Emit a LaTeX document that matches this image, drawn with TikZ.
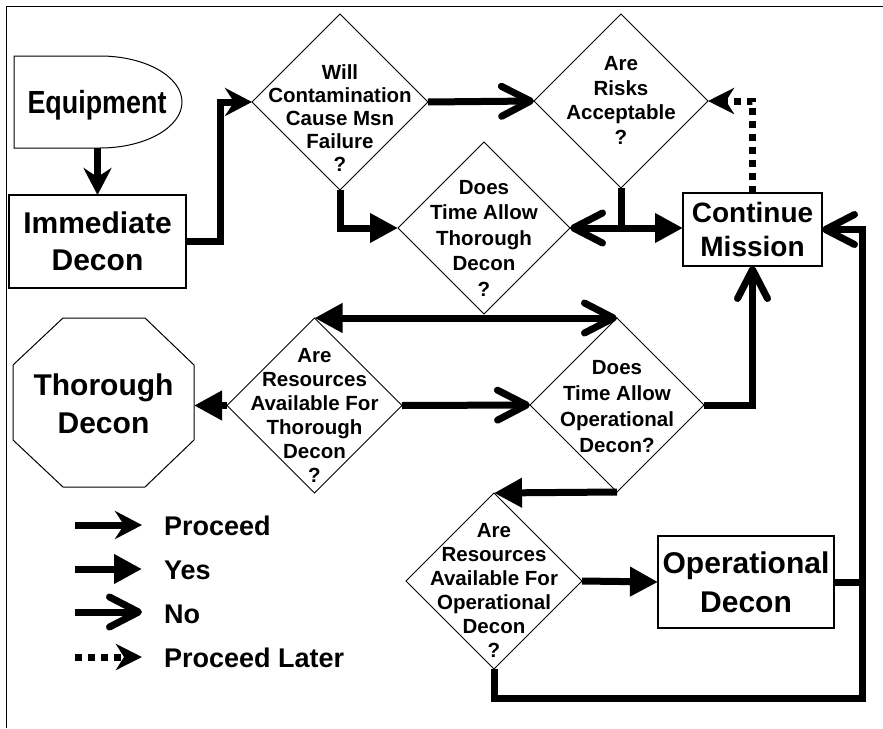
\documentclass[tikz,border=0pt]{standalone}
\usepackage{fontspec}
\usepackage{graphicx}
\setmainfont{Liberation Sans}
\usetikzlibrary{shapes.geometric,arrows.meta}
\begin{document}
\begin{tikzpicture}[x=1pt,y=-1pt,line join=miter,
  thick7/.style={line width=7pt},
  proceed/.style={thick7,-{Stealth[length=27pt,width=28pt,inset=9pt]}},
  yes/.style={thick7,-{Triangle[length=28pt,width=28pt]}},
  no/.style={thick7,-{Straight Barb[length=29pt,width=30pt,round]}},
  later/.style={thick7,dash pattern=on 7pt off 6pt,-{Stealth[length=26pt,width=26pt,inset=8pt]}},
  plainline/.style={thick7},
  dia/.style={diamond,draw,line width=0.9pt,inner sep=0pt,outer sep=0pt,minimum width=#1,minimum height=#1},
  dtext/.style={font=\fontsize{20.5}{#1}\selectfont\bfseries,align=center,inner sep=0pt},
  bigbox/.style={draw,line width=1.2pt,inner sep=0pt,outer sep=0pt,align=center},
  ghost/.style={inner sep=0pt,outer sep=0pt},
  legtext/.style={font=\fontsize{27}{32}\selectfont\bfseries,anchor=base west,inner sep=0pt}
]
\useasboundingbox (0,0) rectangle (883,728);
\fill[white] (0,0) rectangle (883,728);
% frame
\draw[line width=1.8pt] (6.5,728) -- (6.5,6.5) -- (883,6.5);

% Equipment
\draw[line width=1pt] (14,56) -- (100,56) .. controls (145.3,56) and (182,76.6) .. (182,102)
  .. controls (182,127.4) and (145.3,148) .. (100,148) -- (14,148) -- cycle;
\node[ghost,minimum width=168pt,minimum height=92pt] (equip) at (97.5,102) {};
\node[font=\fontsize{32}{38}\selectfont\bfseries,inner sep=0pt,anchor=base] (equipT) at (97,113) {\scalebox{0.84}[1]{Equipment}};

% boxes
\node[bigbox,minimum width=177pt,minimum height=93pt,font=\fontsize{30}{37}\selectfont\bfseries] (imm) at (97.5,241.5) {Immediate\\Decon};
\node[bigbox,minimum width=139pt,minimum height=73pt,font=\fontsize{28}{34}\selectfont\bfseries] (cont) at (752.5,229.5) {Continue\\Mission};
\node[bigbox,minimum width=176pt,minimum height=92pt,font=\fontsize{30}{39}\selectfont\bfseries] (opd) at (746,582) {Operational\\Decon};

% octagon
\draw[line width=1pt] (63,318) -- (145,318) -- (194,365) -- (194,440) -- (145,487) -- (63,487) -- (13,440) -- (13,365) -- cycle;
\node[ghost,minimum width=181pt,minimum height=169pt] (thor) at (103.5,402.5) {};
\node[font=\fontsize{30}{38}\selectfont\bfseries,align=center,inner sep=0pt] (thorT) at (103.5,404) {Thorough\\Decon};

% diamonds
\node[dia=176pt] (will) at (340,102) {};
\node[dtext=23] (willT) at (340,118.5) {Will\\Contamination\\Cause Msn\\Failure\\?};
\node[dia=174pt] (risks) at (621,101) {};
\node[dtext=24.5] (risksT) at (621,100.5) {Are\\Risks\\Acceptable\\?};
\node[dia=172pt] (dtt) at (484,228) {};
\node[dtext=25.5] (dttT) at (484,238) {Does\\Time Allow\\Thorough\\Decon\\?};
\node[dia=175pt] (rth) at (314.5,405.5) {};
\node[dtext=24] (rthT) at (314.5,415) {Are\\Resources\\Available For\\Thorough\\Decon\\?};
\node[dia=174pt] (dto) at (617,405) {};
\node[dtext=25.7] (dtoT) at (617,406.5) {Does\\Time Allow\\Operational\\Decon?};
\node[dia=176pt] (rop) at (494,581) {};
\node[dtext=24] (ropT) at (494,590) {Are\\Resources\\Available For\\Operational\\Decon\\?};

% connectors
\draw[proceed] (equip.south) -- (imm.north);
\draw[proceed] (imm.east) -- ++(34,0) |- (will.west);
\draw[no] (will.east) -- (risks.west);
\draw[yes] (will.south) |- (dtt.west);
\coordinate (rj) at (risks.south |- dtt.east);
\draw[yes] (risks.south) -- (rj) -- (rj -| cont.west);
\draw[no] (rj) -- (dtt.east);
\coordinate (dj) at (dtt.south |- rth.north);
\draw[yes] (dj) -- (rth.north);
\draw[no] (dj) -- (dto.north);
\draw[yes] (rth.west) -- (rth.west -| thor.east);
\draw[no] (rth.east) -- (dto.west);
\draw[no] (dto.east) -| (cont.south);
\draw[yes] (dto.south) -- (rop.north);
\draw[yes] (rop.east) -- (opd.west);
\coordinate (br) at (862,698);
\draw[no] (rop.south) |- (br) |- (cont.east);
\draw[plainline] (opd.east) -- (opd.east -| br);
\draw[later] (cont.north) |- (risks.east);

% legend
\coordinate (l1a) at (75,525); \coordinate (l1b) at (142,525);
\coordinate (l2a) at (75,569); \coordinate (l2b) at (142,569);
\coordinate (l3a) at (75,612); \coordinate (l3b) at (142,612);
\coordinate (l4a) at (75,657); \coordinate (l4b) at (142,657);
\draw[proceed] (l1a) -- (l1b);
\draw[yes] (l2a) -- (l2b);
\draw[no] (l3a) -- (l3b);
\draw[later] (l4a) -- (l4b);
\node[legtext] (lt1) at (164,535) {Proceed};
\node[legtext] (lt2) at (164,579) {Yes};
\node[legtext] (lt3) at (164,623) {No};
\node[legtext] (lt4) at (164,667) {Proceed Later};
\end{tikzpicture}
\end{document}
